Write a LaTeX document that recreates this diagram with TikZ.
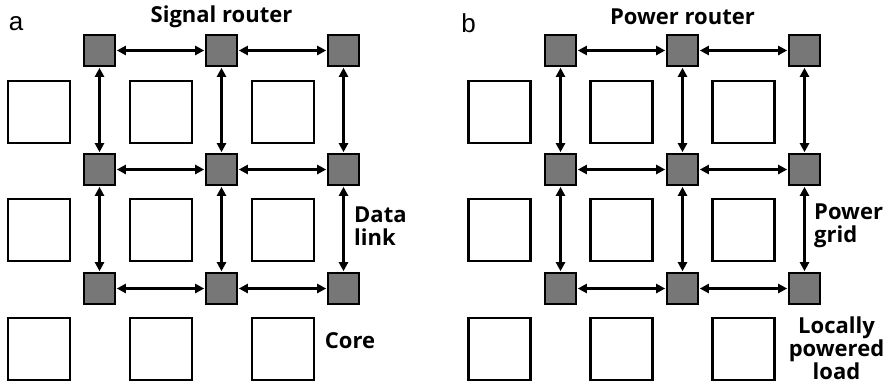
\documentclass[tikz,border=0pt]{standalone}
\usepackage{fontspec}
\setmainfont{Open Sans}
\newfontfamily\arialfont{Liberation Sans}
\usetikzlibrary{arrows.meta}
\definecolor{routergray}{HTML}{777777}
\tikzset{
  router/.style={draw=black, line width=2.6pt, fill=routergray, minimum size=31pt, inner sep=0pt},
  core/.style={draw=black, line width=2.6pt, fill=white, minimum size=62pt, inner sep=0pt},
  link/.style={line width=2.2pt, {Triangle[length=9pt,width=9pt]}-{Triangle[length=9pt,width=9pt]}, shorten <=0.5pt, shorten >=0.5pt},
  lbl/.style={font=\bfseries\fontsize{22}{23}\selectfont, inner sep=0pt},
  panel/.style={font=\arialfont\fontsize{26}{26}\selectfont, inner sep=0pt}
}
\begin{document}
\begin{tikzpicture}[x=1pt,y=-1pt]
\useasboundingbox (0,0) rectangle (896,384);
% ---------- panel a ----------
\foreach \i/\x in {1/99.5,2/221.5,3/343.5}{
  \foreach \j/\y in {1/50.5,2/169.5,3/288.5}{
    \node[router] (ra\i\j) at (\x,\y) {};
  }
}
\foreach \i/\x in {1/39,2/161,3/283}{
  \foreach \j/\y in {1/112,2/230,3/349}{
    \node[core] (ca\i\j) at (\x,\y) {};
  }
}
\foreach \j in {1,2,3}{
  \draw[link] (ra1\j) -- (ra2\j);
  \draw[link] (ra2\j) -- (ra3\j);
}
\foreach \i in {1,2,3}{
  \draw[link] (ra\i1) -- (ra\i2);
  \draw[link] (ra\i2) -- (ra\i3);
}
\node[panel] (pa) at (16,24) {a};
\node[lbl] (ta) at (221.5,17) {Signal router};
\node[lbl, anchor=west, align=left] (tda) at (354,226) {Data\\link};
\node[lbl] (tca) at (350,341) {Core};
% ---------- panel b ----------
\foreach \i/\x in {1/560.5,2/682.5,3/804.5}{
  \foreach \j/\y in {1/50.5,2/169.5,3/288.5}{
    \node[router] (rb\i\j) at (\x,\y) {};
  }
}
\foreach \i/\x in {1/499.5,2/621.5,3/743.5}{
  \foreach \j/\y in {1/112,2/230,3/349}{
    \node[core] (cb\i\j) at (\x,\y) {};
  }
}
\foreach \j in {1,2,3}{
  \draw[link] (rb1\j) -- (rb2\j);
  \draw[link] (rb2\j) -- (rb3\j);
}
\foreach \i in {1,2,3}{
  \draw[link] (rb\i1) -- (rb\i2);
  \draw[link] (rb\i2) -- (rb\i3);
}
\node[panel] (pb) at (468.5,23) {b};
\node[lbl] (tb) at (682.5,17) {Power router};
\node[lbl, anchor=west, align=left] (tgb) at (814,226) {Power\\grid};
\node[lbl, align=center] (tlb) at (836.5,348) {Locally\\powered\\load};
\end{tikzpicture}
\end{document}
